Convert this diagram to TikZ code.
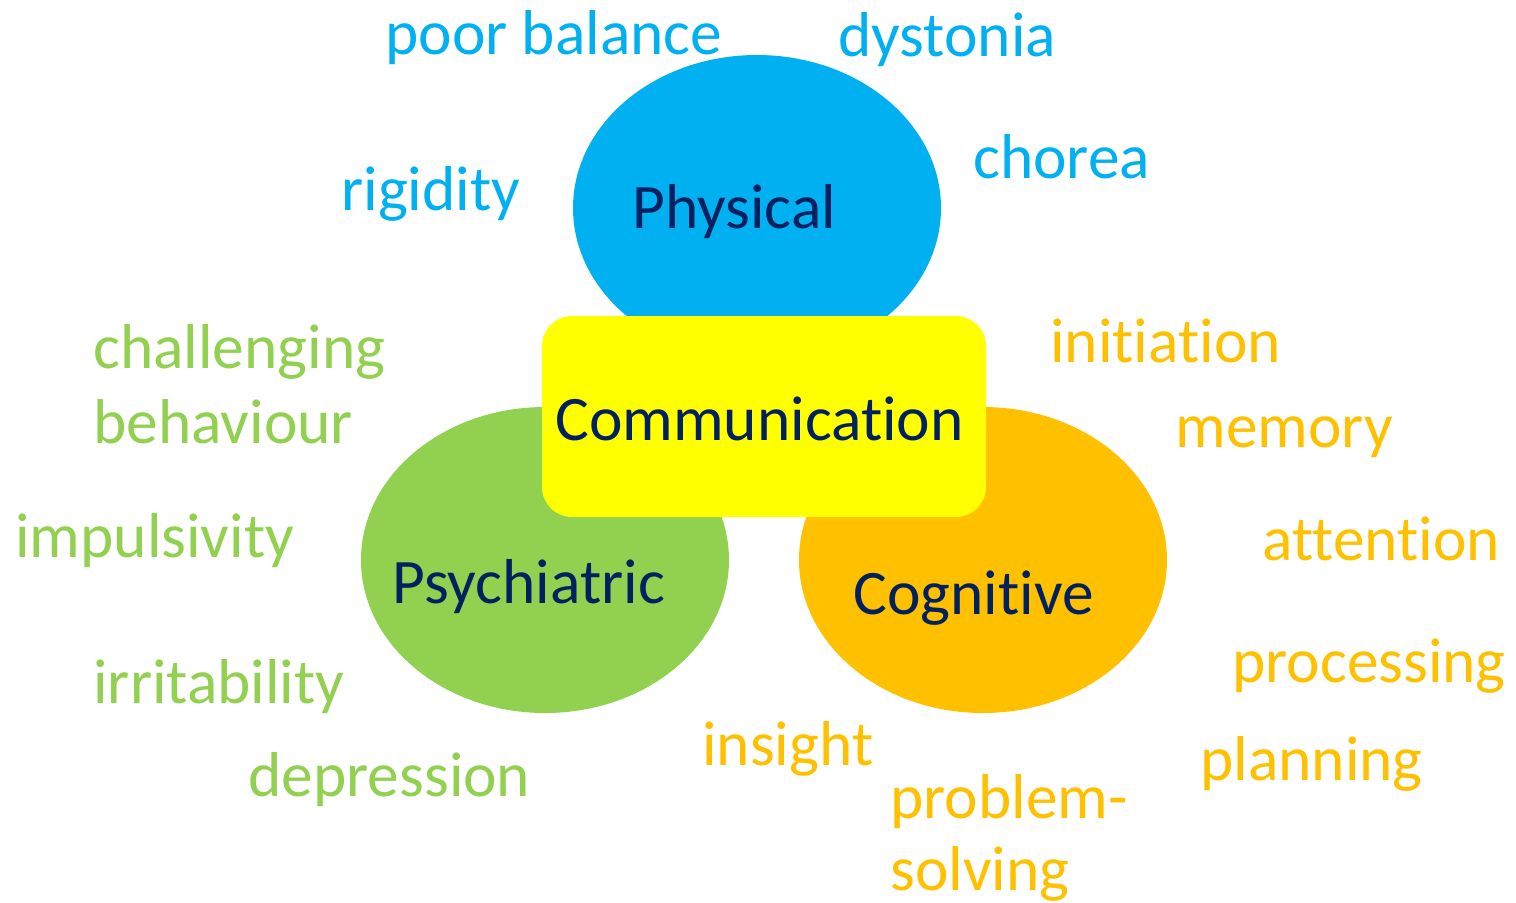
\documentclass[tikz,border=0pt]{standalone}
\usepackage{fontspec}
\setmainfont{Carlito}[Ligatures=NoCommon]
\definecolor{physblue}{HTML}{00B0F0}
\definecolor{psygreen}{HTML}{92D050}
\definecolor{coggold}{HTML}{FFC000}
\definecolor{comyellow}{HTML}{FFFF00}
\definecolor{navytext}{HTML}{002060}
\begin{document}
\begin{tikzpicture}
[x=0.5pt,y=-0.5pt,%
  every node/.style={inner sep=0pt,font=\fontsize{31.7}{38}\selectfont},%
  title/.style={text=navytext,anchor=base west},%
  sign/.style={anchor=base west}]
\useasboundingbox (0,0) rectangle (1516,902);
% the three areas
\fill[physblue] (757,208) ellipse (184 and 153);
\fill[psygreen] (545,560) ellipse (184 and 153);
\fill[coggold] (983,560) ellipse (184 and 153);
\fill[comyellow,rounded corners=15pt] (542,316) rectangle (986,517);
\node[title] (phys) at (632,228) {Physical};
\node[title] (psy) at (392,603) {Psychiatric};
\node[title] (cog) at (853,614) {Cognitive};
\node[title] (com) at (555,440) {Communication};
% physical signs
\node[sign,text=physblue] (balance) at (385,54) {poor balance};
\node[sign,text=physblue] (dystonia) at (838,56) {dystonia};
\node[sign,text=physblue] (chorea) at (973,178) {chorea};
\node[sign,text=physblue] (rigidity) at (341,210) {rigidity};
% psychiatric signs
\node[sign,text=psygreen] (challenging) at (93,368) {challenging};
\node[sign,text=psygreen] (behaviour) at (93,443) {behaviour};
\node[sign,text=psygreen] (impulsivity) at (15,557) {impulsivity};
\node[sign,text=psygreen] (irritability) at (93,703) {irritability};
\node[sign,text=psygreen] (depression) at (248,796) {depression};
% cognitive signs
\node[sign,text=coggold] (initiation) at (1050,362) {initiation};
\node[sign,text=coggold] (memory) at (1175,447) {memory};
\node[sign,text=coggold] (attention) at (1262,560) {attention};
\node[sign,text=coggold] (processing) at (1232,682) {processing};
\node[sign,text=coggold] (planning) at (1200,780) {planning};
\node[sign,text=coggold] (insight) at (702,765) {insight};
\node[sign,text=coggold] (problem) at (890,818) {problem-};
\node[sign,text=coggold] (solving) at (890,890) {solving};
\end{tikzpicture}
\end{document}
